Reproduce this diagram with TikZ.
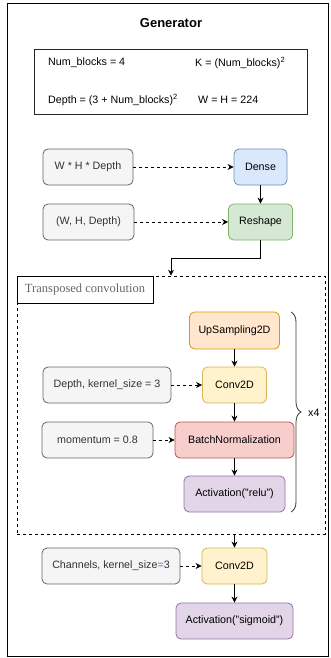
\documentclass[tikz,border=0pt]{standalone}
\usepackage{fontspec}
\setmainfont{Liberation Sans}
\newfontfamily\captionfont{Liberation Serif}
\usetikzlibrary{arrows.meta,decorations.pathreplacing}

\definecolor{grayfill}{HTML}{F5F5F5}
\definecolor{graydraw}{HTML}{666666}
\definecolor{graytext}{HTML}{333333}
\definecolor{densefill}{HTML}{DAE8FC}
\definecolor{densedraw}{HTML}{6C8EBF}
\definecolor{reshapefill}{HTML}{D5E8D4}
\definecolor{reshapedraw}{HTML}{82B366}
\definecolor{upfill}{HTML}{FFE6CC}
\definecolor{updraw}{HTML}{D79B00}
\definecolor{convfill}{HTML}{FFF2CC}
\definecolor{convdraw}{HTML}{D6B656}
\definecolor{bnfill}{HTML}{F8CECC}
\definecolor{bndraw}{HTML}{B85450}
\definecolor{actfill}{HTML}{E1D5E7}
\definecolor{actdraw}{HTML}{9673A6}
\definecolor{eqblue}{HTML}{3C78D8}

\tikzset{
  layer/.style={draw, rounded corners=5pt, minimum height=36pt, inner sep=0pt, line width=0.8pt},
  param/.style={layer, fill=grayfill, draw=graydraw, text=graytext},
  flow/.style={-{Stealth[length=6pt,width=6pt]}, line width=0.8pt},
  hint/.style={flow, dashed}
}

\begin{document}
\begin{tikzpicture}[x=1pt, y=-1pt, font=\fontsize{10.7}{13}\selectfont]
          \useasboundingbox (0,0) rectangle (331,658);
          \draw[line width=0.8pt] (7,3) rectangle (328,656);

          \node[font=\fontsize{13}{15}\selectfont\bfseries] (title) at (171,23) {Generator};
          \node[draw=black!85, line width=0.8pt, minimum width=273pt, minimum height=65pt] (consts) at (170.5,81.5) {};
          \node[anchor=west, inner sep=0pt] (nb) at (48,63) {Num\_blocks = 4};
          \node[anchor=west, inner sep=0pt] (k) at (195,63) {K = (Num\_blocks)\textsuperscript{2}};
          \node[anchor=west, inner sep=0pt] (dp) at (48,100) {Depth = (3 + Num\_blocks)\textsuperscript{2}};
          \node[anchor=west, inner sep=0pt] (wh) at (198,100) {W = H = 224};

          \node[param, minimum width=90pt] (whd) at (88,167) {W * H * Depth};
          \node[layer, fill=densefill, draw=densedraw, minimum width=53pt] (dense) at (260.5,167) {Dense};
          \node[param, minimum width=91pt] (shape) at (88.5,222) {(W, H, Depth)};
          \node[layer, fill=reshapefill, draw=reshapedraw, minimum width=64pt] (reshape) at (260.5,222) {Reshape};

          \node[draw, dashed, line width=0.7pt, minimum width=308pt, minimum height=258pt, inner sep=0pt] (tconv) at (171,405) {};
          \node[draw, solid, line width=0.7pt, anchor=north west, minimum width=136pt, minimum height=27pt, inner sep=0pt,
                text=graydraw, font=\captionfont\fontsize{12.5}{14}\selectfont] (tlabel) at (tconv.north west) {Transposed convolution};

          \node[layer, fill=upfill, draw=updraw, minimum width=90pt, minimum height=37pt] (up) at (234.5,330.5) {UpSampling2D};
          \node[layer, fill=convfill, draw=convdraw, minimum width=64pt] (conv1) at (234.5,385) {Conv2D};
          \node[param, minimum width=128pt] (kern1) at (107,385) {Depth, kernel\_size = 3};
          \node[layer, fill=bnfill, draw=bndraw, minimum width=119pt] (bn) at (234.5,440) {BatchNormalization};
          \node[param, minimum width=111pt] (mom) at (97.5,440) {momentum = 0.8};
          \node[layer, fill=actfill, draw=actdraw, minimum width=101pt] (relu) at (234.5,494) {Activation("relu")};

          \coordinate (btop) at (291,312);
          \coordinate (bbot) at (291,512);
          \draw[graytext, line width=0.8pt, decorate, decoration={brace, amplitude=10pt}] (btop) -- (bbot);
          \node[anchor=west, inner sep=0pt] (times) at (308,413) {x4};

          \node[layer, fill=convfill, draw=convdraw, minimum width=65pt] (conv2) at (234.5,566) {Conv2D};
          \node[param, minimum width=138pt] (kern2) at (111,566) {Channels, kernel\_size{\color{eqblue}=}3};
          \node[layer, fill=actfill, draw=actdraw, minimum width=117pt] (sig) at (234.5,621) {Activation("sigmoid")};

          \draw [hint] (whd.east) -- (dense.west);
          \draw [hint] (shape.east) -- (reshape.west);
          \draw [flow] (dense.south) -- (reshape.north);
          \draw [flow] (reshape.south) -- ++(0,18) -| (tconv.north);
          \draw [flow] (up.south) -- (conv1.north);
          \draw [hint] (kern1.east) -- (conv1.west);
          \draw [flow] (conv1.south) -- (bn.north);
          \draw [hint] (mom.east) -- (bn.west);
          \draw [flow] (bn.south) -- (relu.north);
          \draw [flow] (tconv.south -| conv2.north) -- (conv2.north);
          \draw [hint] (kern2.east) -- (conv2.west);
          \draw [flow] (conv2.south) -- (sig.north);
        \end{tikzpicture}
\end{document}
